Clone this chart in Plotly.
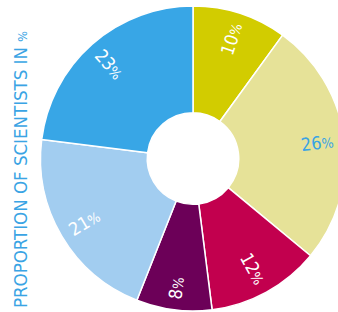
import plotly.graph_objects as go

categories = ["A", "B", "C", "D", "E", "F"]
values = [10, 26, 12, 8, 21, 23]
colors = ["#d2cc00", "#e6e298", "#c2004e", "#6c0058", "#a2cdf0", "#38a6e6"]
text_colors = ["white", "#3aa4e4", "white", "white", "white", "white"]
title_main = "PROPORTION OF SCIENTISTS IN"
title_unit = "%"

FONT = "DejaVu Sans Condensed"
cx, cy, R = 192.5, 158.5, 152.5   # page px
W, H = 346, 312
dom = dict(x=[(cx - R) / W, 1], y=[1 - (cy + R) / H, 1 - (cy - R) / H])

fig = go.Figure()
fig.add_trace(go.Pie(
    labels=categories, values=values, sort=False, direction="clockwise",
    rotation=0, hole=0.3,
    marker=dict(colors=colors, line=dict(color="white", width=1.5)),
    textinfo="none", showlegend=False, domain=dom, hoverinfo="skip",
))

# label ring: each slice split so the label sits centred on the slice's mid angle
total = sum(values)
core = total * 0.019
t_vals, t_text, t_col, t_lab = [], [], [], []
for i, v in enumerate(values):
    t_vals += [v / 2 - core, 2 * core, v / 2 - core]
    t_text += ["", f"{v}<span style='font-size:14px'>%</span>", ""]
    t_col += [text_colors[i]] * 3
    t_lab += [f"{categories[i]}a", f"{categories[i]}b", f"{categories[i]}c"]

Rt = 146
tdom = dict(x=[(cx - Rt) / W, (cx + Rt) / W], y=[1 - (cy + Rt) / H, 1 - (cy - Rt) / H])
fig.add_trace(go.Pie(
    labels=t_lab, values=t_vals, sort=False, direction="clockwise",
    rotation=0, hole=0.6,
    marker=dict(colors=["rgba(0,0,0,0)"] * len(t_vals), line=dict(width=0)),
    text=t_text, textinfo="text",
    textposition="inside", insidetextorientation="radial",
    insidetextfont=dict(color=t_col, size=18, family=FONT),
    showlegend=False, domain=tdom, hoverinfo="skip",
))

fig.add_annotation(
    text=f"{title_main} <span style='font-size:12.5px'>{title_unit}</span>",
    textangle=-90, x=21 / W, y=1 - 170 / H,
    xref="paper", yref="paper", xanchor="center", yanchor="middle",
    showarrow=False, font=dict(size=18.5, color="#3aa4e4", family=FONT),
)

fig.update_layout(
    width=W, height=H,
    margin=dict(l=0, r=0, t=0, b=0),
    paper_bgcolor="white", plot_bgcolor="white",
)

fig.write_html("out.html", config={"displayModeBar": False},
               post_script="document.body.style.margin='0';document.body.style.overflow='hidden';")
